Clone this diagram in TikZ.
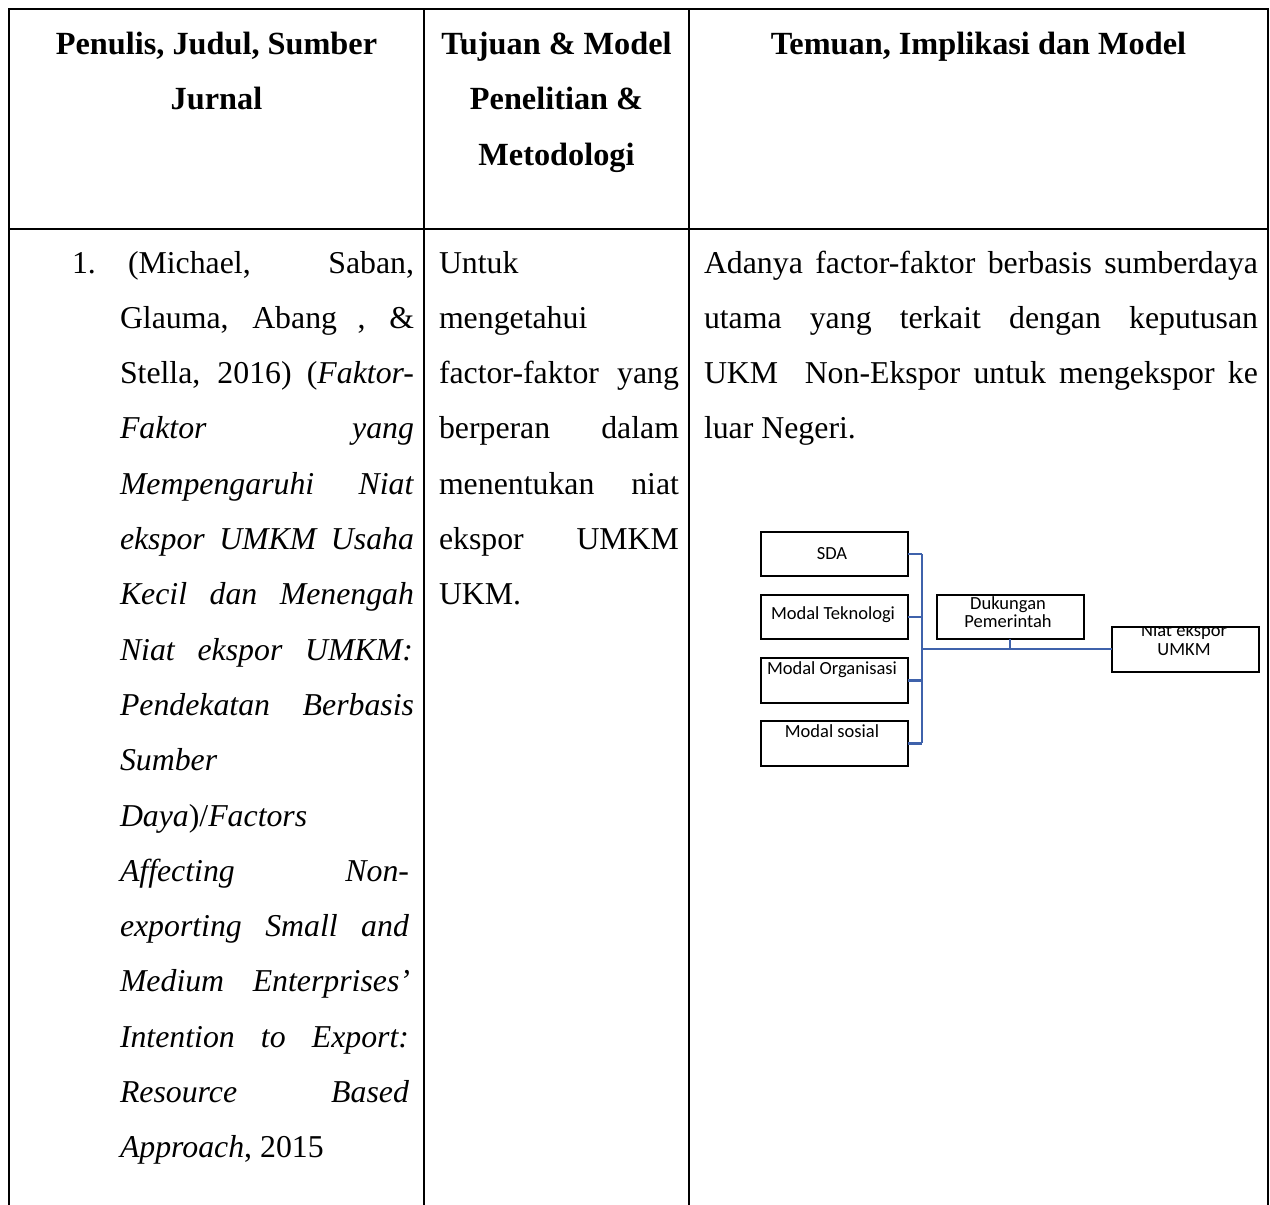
\documentclass[tikz,border=0pt]{standalone}
\usepackage{fontspec}
\setmainfont{Liberation Serif}
\newfontfamily\diafont{Carlito}
\definecolor{connblue}{RGB}{63,98,171}
\tikzset{
  txt/.style={anchor=base west, inner sep=0pt, outer sep=0pt, font=\fontsize{31.8}{40}\selectfont},
  hdr/.style={anchor=base, inner sep=0pt, outer sep=0pt, font=\fontsize{32.3}{40}\selectfont\bfseries},
  grid/.style={line width=2pt, black},
  dbox/.style={draw=black, line width=2pt, minimum width=147pt, inner sep=0pt, outer sep=0pt},
  dtxt/.style={anchor=base, inner sep=0pt, outer sep=0pt, font=\diafont\fontsize{18.5}{18.5}\selectfont},
  conn/.style={draw=connblue, line width=2.3pt}
}
\newcommand\jline[4]{\node[txt] (#1) at (#2) {\makebox[#3][s]{#4}};}
\begin{document}
\begin{tikzpicture}[x=1pt,y=-1pt]
\useasboundingbox (0,0) rectangle (1270,1205);
% table grid
\coordinate (tl) at (9,9);
\coordinate (tr) at (1268,9);
\coordinate (bl) at (9,1205);
\coordinate (br) at (1268,1205);
\coordinate (c1t) at (424,9);
\coordinate (c1b) at (424,1205);
\coordinate (c2t) at (689,9);
\coordinate (c2b) at (689,1205);
\coordinate (hl) at (9,229);
\coordinate (hr) at (1268,229);
\draw[grid] (bl) -- (tl) -- (tr) -- (br);
\draw[grid] (c1t) -- (c1b);
\draw[grid] (c2t) -- (c2b);
\draw[grid] (hl) -- (hr);
% headers
\node[hdr] (h1a) at (216.5,54) {Penulis, Judul, Sumber};
\node[hdr] (h1b) at (216.5,109) {Jurnal};
\node[hdr] (h2a) at (556.5,54) {Tujuan \& Model};
\node[hdr] (h2b) at (556.5,109.5) {Penelitian \&};
\node[hdr] (h2c) at (556.5,165) {Metodologi};
\node[hdr] (h3a) at (978.5,54) {Temuan, Implikasi dan Model};
% column 1
\node[txt] (n1) at (72,273) {1.};
\jline{a1}{128,273}{286pt}{(Michael, Saban,}
\jline{a2}{120,328.3}{294pt}{Glauma, Abang , \&}
\jline{a3}{120,383.6}{294pt}{Stella, 2016) (\textit{Faktor-}}
\jline{a4}{120,438.9}{294pt}{\textit{Faktor yang}}
\jline{a5}{120,494.2}{294pt}{\textit{Mempengaruhi Niat}}
\jline{a6}{120,549.5}{294pt}{\textit{ekspor UMKM Usaha}}
\jline{a7}{120,604.8}{294pt}{\textit{Kecil dan Menengah}}
\jline{a8}{120,660.1}{293pt}{\textit{Niat ekspor UMKM:}}
\jline{a9}{120,715.4}{294pt}{\textit{Pendekatan Berbasis}}
\node[txt] (a10) at (120,770.7) {\textit{Sumber}};
\node[txt] (a11) at (120,826) {\textit{Daya})/\textit{Factors}};
\jline{a12}{120,881.3}{289pt}{\textit{Affecting Non-}}
\jline{a13}{120,936.6}{289pt}{\textit{exporting Small and}}
\jline{a14}{120,991.9}{290pt}{\textit{Medium Enterprises’}}
\jline{a15}{120,1047.2}{289pt}{\textit{Intention to Export:}}
\jline{a16}{120,1102.5}{289pt}{\textit{Resource Based}}
\node[txt] (a17) at (120,1157.8) {\textit{Approach}, 2015};
% column 2
\node[txt] (b1) at (439,273) {Untuk};
\node[txt] (b2) at (439,328.3) {mengetahui};
\jline{b3}{439,383.6}{240pt}{factor-faktor yang}
\jline{b4}{439,438.9}{240pt}{berperan dalam}
\jline{b5}{439,494.2}{240pt}{menentukan niat}
\jline{b6}{439,549.5}{240pt}{ekspor UMKM}
\node[txt] (b7) at (439,604.8) {UKM.};
% column 3
\jline{c1}{704,273}{554pt}{Adanya factor-faktor berbasis sumberdaya}
\jline{c2}{704,328.3}{554pt}{utama yang terkait dengan keputusan}
\jline{c3}{704,383.6}{554pt}{UKM\ \ Non-Ekspor untuk mengekspor ke}
\node[txt] (c4) at (704,438.9) {luar Negeri.};
% diagram boxes
\node[dbox, minimum height=44pt] (sda) at (834,554) {};
\node[dbox, minimum height=44pt] (tek) at (834,617) {};
\node[dbox, minimum height=45pt] (org) at (834,680.5) {};
\node[dbox, minimum height=45pt] (sos) at (834,743.5) {};
\node[dbox, minimum height=44pt] (duk) at (1010,617) {};
\node[dbox, minimum height=45pt] (niat) at (1185.5,649.5) {};
% diagram texts
\node[dtxt] (tsda) at (832,559) {SDA};
\node[dtxt] (ttek) at (833,619) {Modal Teknologi};
\node[dtxt] (torg) at (832,674) {Modal Organisasi};
\node[dtxt] (tsos) at (832,737) {Modal sosial};
\node[dtxt] (tduk1) at (1008,609) {Dukungan};
\node[dtxt] (tduk2) at (1008,627) {Pemerintah};
\begin{scope}
\clip (niat.north west) rectangle (niat.south east);
\node[dtxt] (tniat1) at (1184,636) {Niat ekspor};
\end{scope}
\node[dtxt] (tniat2) at (1184,655) {UMKM};
\draw[draw=black, line width=2pt] (niat.north west) rectangle (niat.south east);
% connectors
\coordinate (vtop) at (922,554);
\coordinate (vbot) at (922,743);
\coordinate (hub) at (922,649);
\coordinate (dj) at (1010,649);
\draw[conn] (sda.east |- vtop) -- (vtop);
\draw[conn] (tek.east) -- (tek.east -| hub);
\draw[conn] (org.east) -- (org.east -| hub);
\draw[conn] (sos.east) -- (sos.east -| hub);
\draw[conn] (vtop) -- (vbot);
\draw[conn] (hub) -- (niat.west |- hub);
\draw[conn] (duk.south) -- (dj);
\end{tikzpicture}
\end{document}
